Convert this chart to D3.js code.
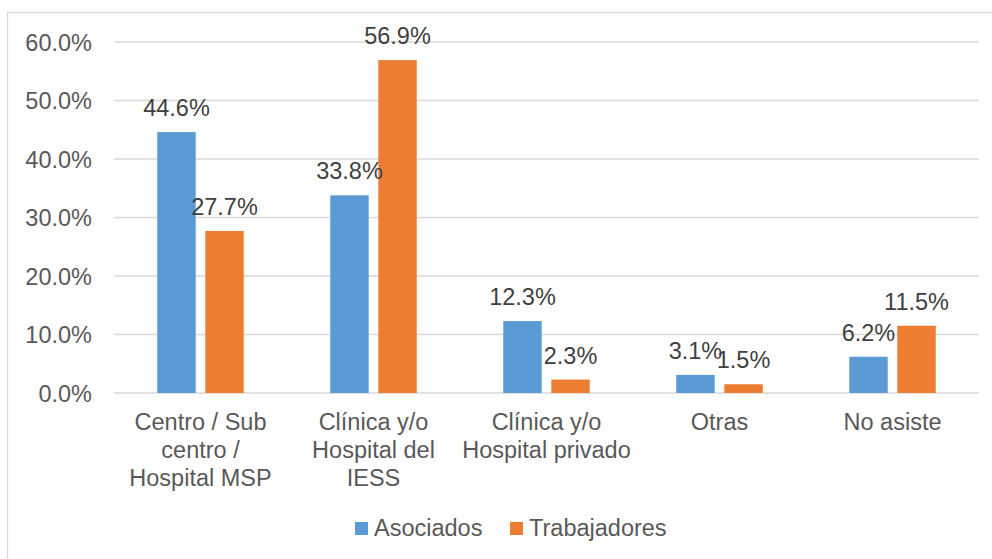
<!DOCTYPE html>
<html>
<head>
<meta charset="utf-8">
<script src="https://cdn.jsdelivr.net/npm/d3@7"></script>
<style>
    body { margin: 0; background: #fff; }
    svg { display: block; font-family: "Liberation Sans", Arial, sans-serif; }
</style>
</head>
<body>
<svg width="992" height="559"></svg>
<script>
const categories = [
    ["Centro / Sub", "centro /", "Hospital MSP"],
    ["Clínica y/o", "Hospital del", "IESS"],
    ["Clínica y/o", "Hospital privado"],
    ["Otras"],
    ["No asiste"]
];
const seriesNames = ["Asociados", "Trabajadores"];
const asociados = [44.6, 33.8, 12.3, 3.1, 6.2];
const trabajadores = [27.7, 56.9, 2.3, 1.5, 11.5];
const yTicks = [0, 10, 20, 30, 40, 50, 60];
const colors = ["#5b9bd5", "#ed7d31"];

let svg = d3.select("svg");
let textColor = "#595959";

// chart border
svg.append("rect")
    .attr("x", 7.5).attr("y", 12.5)
    .attr("width", 1000).attr("height", 600)
    .attr("fill", "none").attr("stroke", "#d9d9d9").attr("stroke-width", 1.3);

let catKeys = categories.map(function (c, i) { return i; });

let x0 = d3.scaleBand().domain(catKeys).range([114, 979]).paddingInner(0.5).paddingOuter(0.25);
let x1 = d3.scaleBand().domain(seriesNames).range([0, x0.bandwidth()]).paddingInner(0.2);
let y = d3.scaleLinear().domain([0, 60]).range([393, 42]);

// gridlines
svg.append("g").selectAll("line")
    .data(yTicks)
    .enter().append("line")
    .attr("x1", 114).attr("x2", 979)
    .attr("y1", function (d) { return y(d); })
    .attr("y2", function (d) { return y(d); })
    .attr("stroke", "#d9d9d9").attr("stroke-width", 1.3);

// y axis labels
let yAxis = svg.append("g")
    .attr("transform", "translate(104,0)")
    .call(d3.axisLeft(y).tickValues(yTicks).tickSize(0).tickPadding(12)
        .tickFormat(function (d) { return d.toFixed(1) + "%"; }));
yAxis.select(".domain").remove();
yAxis.selectAll("text")
    .attr("font-size", "23.5px")
    .attr("fill", textColor)
    .attr("font-family", "Liberation Sans, Arial, sans-serif")
    .attr("dy", "0.36em")
    .attr("x", -12);

let rows = catKeys.map(function (i) {
    return [
        { key: "Asociados", value: asociados[i] },
        { key: "Trabajadores", value: trabajadores[i] }
    ];
});

let groups = svg.append("g").selectAll("g")
    .data(rows)
    .enter().append("g")
    .attr("transform", function (d, i) { return "translate(" + x0(i) + ",0)"; });

groups.selectAll("rect")
    .data(function (d) { return d; })
    .enter().append("rect")
    .attr("x", function (d) { return x1(d.key); })
    .attr("y", function (d) { return y(d.value); })
    .attr("width", x1.bandwidth())
    .attr("height", function (d) { return y(0) - y(d.value); })
    .attr("fill", function (d, i) { return colors[i]; });

groups.selectAll("text")
    .data(function (d) { return d; })
    .enter().append("text")
    .attr("x", function (d) { return x1(d.key) + x1.bandwidth() / 2; })
    .attr("y", function (d) { return y(d.value) - 16; })
    .attr("text-anchor", "middle")
    .attr("font-size", "23.5px")
    .attr("fill", "#404040")
    .text(function (d) { return d.value.toFixed(1) + "%"; });

// category labels
let catLabels = svg.append("g").selectAll("text")
    .data(categories)
    .enter().append("text")
    .attr("text-anchor", "middle")
    .attr("font-size", "23.5px")
    .attr("fill", textColor);

catLabels.selectAll("tspan")
    .data(function (d, i) { return d.map(function (line) { return { line: line, i: i }; }); })
    .enter().append("tspan")
    .attr("x", function (d) { return x0(d.i) + x0.bandwidth() / 2; })
    .attr("y", function (d, j) { return 430 + j * 28; })
    .text(function (d) { return d.line; });

// legend
let legendX = [355, 510];
let legend = svg.append("g").selectAll("g")
    .data(seriesNames)
    .enter().append("g")
    .attr("transform", function (d, i) { return "translate(" + legendX[i] + ",522)"; });

legend.append("rect")
    .attr("width", 13).attr("height", 13)
    .attr("fill", function (d, i) { return colors[i]; });

legend.append("text")
    .attr("x", 19).attr("y", 14)
    .attr("font-size", "23.5px")
    .attr("fill", textColor)
    .text(function (d) { return d; });
</script>
</body>
</html>
